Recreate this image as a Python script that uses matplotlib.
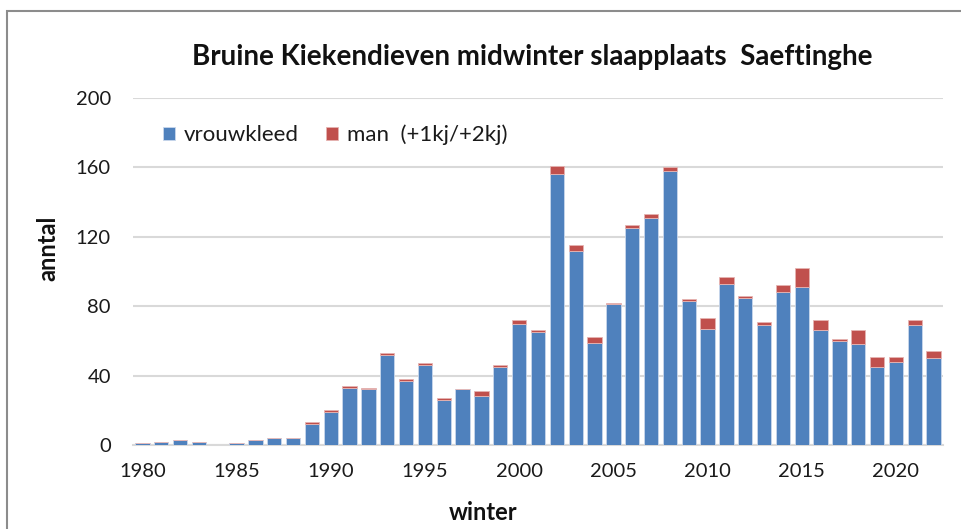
import numpy as np
import matplotlib
matplotlib.use('Agg')
import matplotlib.pyplot as plt
from matplotlib.patches import Rectangle

# winter counts, Saeftinghe roost
years = list(range(1980, 2023))
vrouwkleed = [1, 2, 3, 2, 0, 1, 3, 4, 4, 12,
              19, 33, 32, 52, 37, 46, 26, 32, 28, 45,
              70, 65, 156, 112, 59, 81, 125, 131, 158, 83,
              67, 93, 85, 69, 88, 91, 66, 60, 58, 45,
              48, 69, 50]
man = [0, 0, 0, 0, 0, 0, 0, 0, 0, 1,
       1, 1, 1, 1, 1, 1, 1, 0, 3, 1,
       2, 1, 5, 3, 3, 1, 2, 2, 2, 1,
       6, 4, 1, 2, 4, 11, 6, 1, 8, 6,
       3, 3, 4]
xtick_years = [1980, 1985, 1990, 1995, 2000, 2005, 2010, 2015, 2020]
yticks = [0, 40, 80, 120, 160, 200]

plt.rcParams['font.family'] = ['Lato', 'DejaVu Sans']

W, H = 961, 529
fig = plt.figure(figsize=(W / 100, H / 100), dpi=100)

# grey outer frame of the chart area
fig.patches.append(Rectangle((7 / W, -0.1), 1.2, (H - 11) / H + 0.1,
                             transform=fig.transFigure, fill=False,
                             edgecolor='#8c8c8c', lw=1.5, zorder=0))

ax = fig.add_axes([133 / W, (H - 445) / H, 810 / W, 347 / H])

blue = '#4F81BD'
red = '#C0504D'
ax.bar(years, vrouwkleed, width=0.76, color=blue, edgecolor='#c9d8ec',
       linewidth=0.6, label='vrouwkleed', zorder=3)
ax.bar(years, man, width=0.76, bottom=vrouwkleed, color=red,
       edgecolor='#e6b4b2', linewidth=0.6, label='man  (+1kj/+2kj)', zorder=3)

ax.set_xlim(1979.5, 2022.5)
ax.set_ylim(0, 200)
ax.set_yticks(yticks)
ax.set_xticks(xtick_years)
ax.tick_params(axis='both', length=0, labelsize=14.5, colors='#1a1a1a')
ax.tick_params(axis='x', pad=13)
ax.tick_params(axis='y', pad=16)

ax.grid(axis='y', color='#d9d9d9', lw=1.5, zorder=0)
ax.set_axisbelow(True)
for s in ['left', 'right', 'top']:
    ax.spines[s].set_visible(False)
ax.spines['bottom'].set_color('#d9d9d9')
ax.spines['bottom'].set_linewidth(1.5)

fig.text(532 / W, 1 - 57 / H, 'Bruine Kiekendieven midwinter slaapplaats  Saeftinghe',
         ha='center', va='center', fontsize=20, fontweight='bold', color='#111111')
fig.text(48 / W, 1 - 248 / H, 'anntal', rotation=90, ha='center', va='center',
         fontsize=17, fontweight='bold', color='#111111')
fig.text(483 / W, 1 - 512 / H, 'winter', ha='center', va='center',
         fontsize=17, fontweight='bold', color='#111111')

ax.legend(loc='center left', bbox_to_anchor=(21 / 810, (445 - 135) / 347),
          ncol=2, frameon=False, fontsize=16, handlelength=0.55,
          handleheight=0.55, handletextpad=0.4, columnspacing=1.2,
          borderaxespad=0, labelcolor='#1a1a1a')

fig.savefig('out.png', dpi=100)
